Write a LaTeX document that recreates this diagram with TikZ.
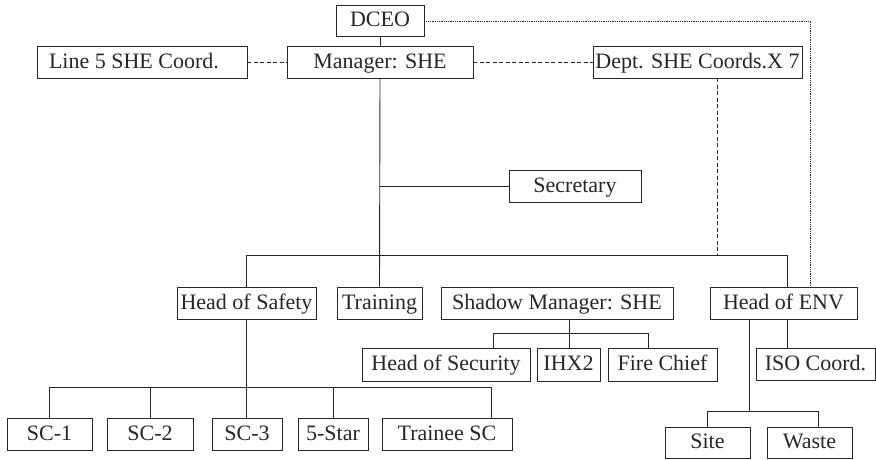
\documentclass[tikz,border=0pt]{standalone}
\usepackage{fontspec}
\setmainfont{Liberation Serif}
\begin{document}
\begin{tikzpicture}[x=1pt,y=-1pt,
  unit/.style={draw=black!85, line width=0.9pt, inner sep=0pt, minimum height=32pt,
    text height=13pt, text depth=1pt,
    font=\fontsize{22}{24}\selectfont, text=black!85},
  link/.style={draw=black!85, line width=0.9pt},
  dashlink/.style={link, dash pattern=on 4pt off 2.5pt},
  dotlink/.style={link, line width=0.8pt, dash pattern=on 0.9pt off 0.9pt}]
\useasboundingbox (0,0) rectangle (876,459);

% top level
\node[unit, minimum width=88pt, minimum height=31pt] (dceo) at (380,20.5) {DCEO};
\node[unit, minimum width=186pt] (mgr) at (380,62) {Manager: SHE};
\node[unit, minimum width=210pt] (line5) at (142,62) {\makebox[186pt][l]{Line 5 SHE Coord.}};
\node[unit, minimum width=209pt] (dept) at (697.5,62) {Dept. SHE Coords.X 7};
\node[unit, minimum width=132pt] (sec) at (575,186) {Secretary};

% second level
\node[unit, minimum width=139pt] (hsafety) at (246.5,303) {Head of Safety};
\node[unit, minimum width=85pt] (training) at (379.5,303) {Training};
\node[unit, minimum width=232pt] (shadow) at (557,303) {Shadow Manager: SHE};
\node[unit, minimum width=147pt] (henv) at (783.5,303) {Head of ENV};

% under the shadow manager
\node[unit, minimum width=168pt, minimum height=33pt] (hsec) at (446,364.5) {Head of Security};
\node[unit, minimum width=63pt, minimum height=33pt] (ihx) at (568.5,364.5) {IHX2};
\node[unit, minimum width=109pt, minimum height=33pt] (fire) at (662.5,364.5) {Fire Chief};

% under the head of ENV
\node[unit, minimum width=119pt] (iso) at (815.5,364) {ISO Coord.};
\node[unit, minimum width=85pt, minimum height=31pt] (site) at (707.5,442.5) {Site};
\node[unit, minimum width=85pt, minimum height=31pt] (waste) at (809.5,442.5) {Waste};

% under the head of safety
\node[unit, minimum width=85pt] (sc1) at (49.5,434) {SC-1};
\node[unit, minimum width=86pt] (sc2) at (150,434) {SC-2};
\node[unit, minimum width=70pt] (sc3) at (247,434) {SC-3};
\node[unit, minimum width=70pt] (five) at (333,434) {5-Star};
\node[unit, minimum width=130pt] (trainee) at (447,434) {Trainee SC};

% junction points
\coordinate (busR) at (787,255);
\coordinate (dtop) at (717,78);
\coordinate (dbot) at (717,255);
\coordinate (dcorner) at (810,21);
\coordinate (shj) at (569,333);
\coordinate (hsecj) at (493,333);
\coordinate (firej) at (648,333);
\coordinate (envj) at (749,411);
\coordinate (wastej) at (818,411);
\coordinate (isox) at (787,0);
\coordinate (scbusR) at (491,387);

% main line
\draw[link] (dceo.south) -- (mgr.north);
\draw[link] (mgr.south) -- (training.north);
\draw[link] (mgr.south |- sec.west) -- (sec.west);
\draw[link] (hsafety.north) |- (busR) -- (busR |- henv.north);

% dashed and dotted relations
\draw[dashlink] (line5.east) -- (mgr.west);
\draw[dashlink] (mgr.east) -- (dept.west);
\draw[dashlink] (dtop) -- (dbot);
\draw[dotlink] (dceo.east |- dcorner) -- (dcorner) -- (dcorner |- henv.north);

% shadow manager branch
\draw[link] (shadow.south -| shj) -- (ihx.north -| shj);
\draw[link] (hsec.north -| hsecj) -- (hsecj) -- (firej) -- (fire.north -| firej);

% head of ENV branch
\draw[link] (henv.south -| isox) -- (iso.north -| isox);
\draw[link] (henv.south -| envj) -- (envj);
\draw[link] (site.north) |- (wastej) -- (waste.north -| wastej);

% head of safety branch
\draw[link] (hsafety.south) -- (hsafety.south |- sc3.north);
\draw[link] (sc1.north) |- (scbusR) -- (trainee.north -| scbusR);
\draw[link] (sc2.north) -- (sc2.north |- scbusR);
\draw[link] (five.north) -- (five.north |- scbusR);
\end{tikzpicture}
\end{document}
